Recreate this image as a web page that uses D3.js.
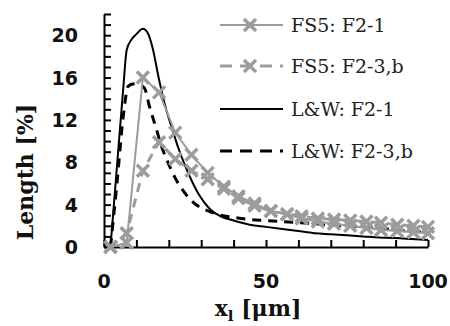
<!DOCTYPE html>
<html>
<head>
<meta charset="utf-8">
<script src="https://cdn.jsdelivr.net/npm/d3@7"></script>
<style>
  body { margin: 0; background: #fff; }
  .axis path, .axis line { stroke: #000; stroke-width: 2px; }
  .ticklab { font-family: "DejaVu Sans", sans-serif; font-weight: bold; font-size: 19px; fill: #111; }
  .title { font-family: "DejaVu Serif", serif; font-weight: bold; font-size: 22px; fill: #111; }
  .leg { font-family: "DejaVu Serif", serif; font-size: 19px; fill: #222; }
</style>
</head>
<body>
<div id="chart"></div>
<script>
// FS5 simulation (gray, with markers)
var fsX = [2, 7, 12, 17, 22, 27, 32, 37, 41.5, 46.5, 51.5, 56.5, 61, 66, 71, 76, 81, 85.5, 90.5, 95.5, 100];
var fsF21 = [0, 0.4, 16, 14.6, 10.8, 8.7, 7.0, 5.7, 4.8, 4.1, 3.4, 3.1, 2.7, 2.4, 2.2, 2.0, 1.8, 1.6, 1.5, 1.4, 1.3];
var fsF23b = [0, 1.3, 7.2, 9.9, 8.3, 7.2, 6.4, 5.5, 4.6, 3.9, 3.4, 3.1, 2.9, 2.7, 2.6, 2.5, 2.4, 2.3, 2.1, 2.0, 1.9];

// L&W model (black)
var lwX1 = [2, 4, 6, 7, 8.5, 10, 12, 13.5, 15, 17, 19, 21, 23, 25, 27, 29, 31, 33, 36, 40, 45, 50, 55, 60, 65, 70, 75, 80, 85, 90, 95, 100];
var lwF21 = [0, 7.6, 15.2, 18.6, 19.6, 20.1, 20.6, 20.2, 18.8, 15.8, 13.2, 11.2, 9.3, 7.7, 6.3, 5.1, 4.2, 3.5, 2.9, 2.5, 2.1, 1.9, 1.7, 1.5, 1.3, 1.2, 1.1, 1.0, 0.9, 0.85, 0.75, 0.65];
var lwX2 = [2, 4, 6, 7.5, 9, 11, 12.5, 14, 16, 18, 20, 22, 24, 26, 28, 30, 33, 36, 40, 45, 50, 55, 60, 65, 70, 75, 80, 85, 90, 95, 100];
var lwF23b = [0, 6, 12.5, 15.2, 15.4, 15.3, 15, 13.3, 11.3, 9.3, 7.8, 6.5, 5.5, 4.7, 4.1, 3.7, 3.3, 3.0, 2.8, 2.6, 2.5, 2.4, 2.3, 2.2, 2.1, 2.0, 1.9, 1.8, 1.6, 1.5, 1.4];

var legendLabels = ["FS5: F2-1", "FS5: F2-3,b", "L&W: F2-1", "L&W: F2-3,b"];
var xTicks = [0, 50, 100];
var yTicks = [0, 4, 8, 12, 16, 20];

var W = 450, H = 326;
var margin = {top: 14, right: 22, bottom: 79, left: 104};

var svg = d3.select("#chart").append("svg")
    .attr("width", W).attr("height", H);

var x = d3.scaleLinear().domain([0, 100]).range([margin.left, W - margin.right]);
var y = d3.scaleLinear().domain([0, 22]).range([H - margin.bottom, margin.top]);

var gray = "#9c9c9c";

// axes
svg.append("g").attr("class", "axis")
    .attr("transform", "translate(0," + y(0) + ")")
    .call(d3.axisTop(x).tickValues(d3.range(0, 101, 10)).tickSize(7).tickSizeOuter(0).tickFormat(""));
svg.append("g").attr("class", "axis")
    .attr("transform", "translate(" + x(0) + ",0)")
    .call(d3.axisRight(y).tickValues(d3.range(0, 23, 1)).tickSize(7).tickSizeOuter(0).tickFormat(""));

svg.selectAll(".xlab").data(xTicks).enter().append("text")
    .attr("class", "ticklab")
    .attr("x", function(d) { return x(d); })
    .attr("y", 288)
    .attr("text-anchor", "middle")
    .text(function(d) { return d; });

svg.selectAll(".ylab").data(yTicks).enter().append("text")
    .attr("class", "ticklab")
    .attr("x", 78)
    .attr("y", function(d) { return y(d) + 7; })
    .attr("text-anchor", "end")
    .text(function(d) { return d; });

svg.append("text").attr("class", "title")
    .attr("transform", "translate(33,172) rotate(-90)")
    .attr("text-anchor", "middle")
    .text("Length [%]");

var xl = svg.append("text").attr("class", "title")
    .attr("x", 258).attr("y", 316)
    .attr("text-anchor", "middle");
xl.append("tspan").text("x");
xl.append("tspan").attr("dy", 5).style("font-size", "15px").text("l");
xl.append("tspan").attr("dy", -5).text(" [μm]");

// series
var lin = d3.line().x(function(d) { return x(d[0]); }).y(function(d) { return y(d[1]); });
var smooth = d3.line().curve(d3.curveMonotoneX).x(function(d) { return x(d[0]); }).y(function(d) { return y(d[1]); });

function pairs(xs, ys) { return xs.map(function(v, i) { return [v, ys[i]]; }); }

var series = [
  {data: pairs(fsX, fsF21), color: gray, width: 2, dash: null, marker: true, gen: lin},
  {data: pairs(fsX, fsF23b), color: gray, width: 3, dash: "9,7", marker: true, gen: lin},
  {data: pairs(lwX1, lwF21), color: "#000", width: 2, dash: null, marker: false, gen: smooth},
  {data: pairs(lwX2, lwF23b), color: "#000", width: 3, dash: "9,7", marker: false, gen: smooth}
];

function cross(g, cx, cy, color) {
  var s = 6;
  g.append("path")
    .attr("d", "M" + (cx - s) + "," + (cy - s) + "L" + (cx + s) + "," + (cy + s) +
               "M" + (cx - s) + "," + (cy + s) + "L" + (cx + s) + "," + (cy - s))
    .attr("stroke", color).attr("stroke-width", 3.5).attr("fill", "none");
}

series.slice().reverse().forEach(function(s) {
  svg.append("path").datum(s.data)
    .attr("d", s.gen)
    .attr("fill", "none")
    .attr("stroke", s.color)
    .attr("stroke-width", s.width)
    .attr("stroke-dasharray", s.dash);
  if (s.marker) {
    var g = svg.append("g");
    s.data.forEach(function(d) { cross(g, x(d[0]), y(d[1]), s.color); });
  }
});

// legend
var legY = [25, 66, 109, 151];
series.forEach(function(s, i) {
  var g = svg.append("g");
  g.append("line")
    .attr("x1", 220).attr("x2", 283)
    .attr("y1", legY[i]).attr("y2", legY[i])
    .attr("stroke", s.color).attr("stroke-width", s.width)
    .attr("stroke-dasharray", s.dash ? "12,8" : null);
  if (s.marker) cross(g, 250, legY[i], s.color);
  g.append("text").attr("class", "leg")
    .attr("x", 291).attr("y", legY[i] + 7)
    .text(legendLabels[i]);
});
</script>
</body>
</html>
